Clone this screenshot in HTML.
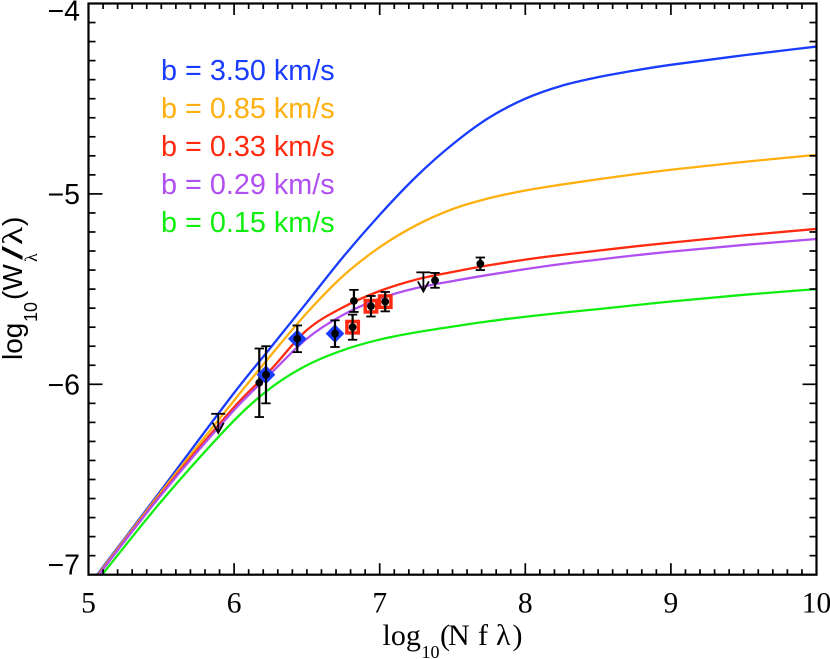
<!DOCTYPE html>
<html lang="en">
<head>
<meta charset="utf-8">
<title>Curve of growth</title>
<style>
html,body{margin:0;padding:0;background:#fff;}
svg{display:block;}
.sans{font-family:"Liberation Sans",sans-serif;}
.serif{font-family:"Liberation Serif",serif;}
</style>
</head>
<body>
<svg id="chart" width="830" height="659" viewBox="0 0 830 659" xmlns="http://www.w3.org/2000/svg">
  <defs><clipPath id="plot-clip"><rect x="88.5" y="3.5" width="728" height="571.2"/></clipPath></defs>
  <g id="curves" clip-path="url(#plot-clip)"></g>
  <g id="observations"></g>
  <g id="axes"></g>
  <g id="legend" class="sans" font-size="28.8"></g>
  <g class="serif" fill="#000" font-size="30">
    <text x="382.5" y="645">log</text>
    <text x="421.5" y="658" font-size="18">10</text>
    <text x="440" y="645">(</text>
    <text x="448" y="645">N</text>
    <text x="478" y="645">f</text>
    <text x="496" y="645">λ</text>
    <text x="512.5" y="645">)</text>
  </g>
  <g class="sans" fill="#000">
    <text transform="translate(22,360) rotate(-90)" font-size="28">log</text>
    <text transform="translate(37,322) rotate(-90)" font-size="18">10</text>
    <text transform="translate(22,300) rotate(-90)" font-size="28">(W</text>
    <text transform="translate(37,262) rotate(-90)" font-size="18" class="serif">λ</text>
    <text transform="translate(22,260) rotate(-90) scale(1.8,1)" font-size="28">/</text>
    <text transform="translate(22,245) rotate(-90) scale(1.35,1)" font-size="28" class="serif">λ</text>
    <text transform="translate(22,226) rotate(-90)" font-size="28">)</text>
  </g>
</svg>
<script>
// Axis ranges and tick labels
const xDomain = [5, 10];
const yDomain = [-7, -4];
const xTickLabels = [5, 6, 7, 8, 9, 10];
const yTickLabels = [-7, -6, -5, -4];

// Curve series: shared log10(N f lambda) samples and log10(W/lambda) values
const logNfl = [5, 5.5, 6, 6.25, 6.5, 6.75, 7, 7.25, 7.5, 7.75, 8, 8.25, 8.5, 8.75, 9, 9.5, 10];
const blueY = [-7.06, -6.555, -6.045, -5.808, -5.57, -5.33, -5.11, -4.91, -4.74, -4.60, -4.50, -4.432, -4.387, -4.352, -4.322, -4.272, -4.226];
const orangeY = [-7.065, -6.565, -6.085, -5.85, -5.625, -5.43, -5.28, -5.165, -5.08, -5.023, -4.982, -4.951, -4.923, -4.897, -4.873, -4.832, -4.795];
const redY = [-7.07, -6.575, -6.12, -5.925, -5.715, -5.595, -5.51, -5.45, -5.41, -5.375, -5.345, -5.32, -5.298, -5.276, -5.256, -5.218, -5.184];
const purpleY = [-7.07, -6.58, -6.135, -5.945, -5.76, -5.635, -5.55, -5.495, -5.458, -5.425, -5.395, -5.368, -5.345, -5.323, -5.303, -5.268, -5.237];
const greenY = [-7.09, -6.615, -6.19, -6.02, -5.90, -5.82, -5.765, -5.727, -5.697, -5.669, -5.645, -5.624, -5.605, -5.585, -5.565, -5.53, -5.5];

const seriesNames = ['blue', 'orange', 'red', 'purple', 'green'];
const seriesColors = ['#1a3cff', '#ffb010', '#ff2a10', '#b050f0', '#10ee10'];
const seriesB = ['3.50', '0.85', '0.33', '0.29', '0.15'];
const seriesYs = [blueY, orangeY, redY, purpleY, greenY];

// Observations
const obsX = [6.173, 6.219, 6.434, 6.693, 6.823, 6.814, 6.94, 7.038, 7.38, 7.691];
const obsY = [-5.992, -5.95, -5.761, -5.734, -5.562, -5.70, -5.59, -5.566, -5.454, -5.367];
const obsErr = [0.18, 0.15, 0.07, 0.07, 0.058, 0.066, 0.054, 0.051, 0.039, 0.033];
const obsMarker = ['none', 'diamond', 'diamond', 'diamond', 'none', 'square', 'square', 'square', 'none', 'none'];
const limitX = [5.891, 7.30];
const limitY = [-6.155, -5.412];
const limitDrop = [0.1, 0.1];

const NS = 'http://www.w3.org/2000/svg';
const PX0 = 88.5, PX1 = 816.5, PY0 = 574.7, PY1 = 3.5;
function xs(v) { return PX0 + (v - xDomain[0]) / (xDomain[1] - xDomain[0]) * (PX1 - PX0); }
function ys(v) { return PY0 + (v - yDomain[0]) / (yDomain[1] - yDomain[0]) * (PY1 - PY0); }
function mk(tag, parent, attrs) {
  const el = document.createElementNS(NS, tag);
  for (const k in attrs) el.setAttribute(k, attrs[k]);
  parent.appendChild(el);
  return el;
}
function smoothPath(px, py) {
  const n = px.length;
  const m = px.map(function (_, i) {
    const a = Math.max(i - 1, 0), b = Math.min(i + 1, n - 1);
    return (py[b] - py[a]) / (px[b] - px[a]);
  });
  let d = 'M' + px[0].toFixed(2) + ' ' + py[0].toFixed(2);
  for (let i = 0; i < n - 1; i++) {
    const dx = (px[i + 1] - px[i]) / 3;
    d += 'C' + (px[i] + dx).toFixed(2) + ' ' + (py[i] + m[i] * dx).toFixed(2) + ' ' + (px[i + 1] - dx).toFixed(2) + ' ' + (py[i + 1] - m[i + 1] * dx).toFixed(2) + ' ' + px[i + 1].toFixed(2) + ' ' + py[i + 1].toFixed(2);
  }
  return d;
}

// Curves
const curvesG = document.getElementById('curves');
seriesNames.forEach(function (name, i) {
  const p = mk('path', curvesG, { d: smoothPath(logNfl.map(xs), seriesYs[i].map(ys)), fill: 'none', stroke: seriesColors[i], 'stroke-width': 2.3, 'stroke-linejoin': 'round' });
  
  
});

// Legend
const legendG = document.getElementById('legend');
seriesNames.forEach(function (name, i) {
  const t = mk('text', legendG, { x: 161, y: 80 + i * 38, fill: seriesColors[i] });
  t.textContent = 'b = ' + seriesB[i] + ' km/s';
  
  
});

// Observations
const obsG = document.getElementById('observations');
obsX.forEach(function (vx, i) {
  const g = mk('g', obsG, {});
  
  
  const cx = xs(vx), cy = ys(obsY[i]);
  const top = ys(obsY[i] + obsErr[i]), bot = ys(obsY[i] - obsErr[i]);
  if (obsMarker[i] === 'diamond') {
    mk('path', g, { d: 'M' + cx + ' ' + (cy - 6.8) + 'L' + (cx + 6.8) + ' ' + cy + 'L' + cx + ' ' + (cy + 6.8) + 'L' + (cx - 6.8) + ' ' + cy + 'Z', fill: 'none', stroke: '#1a3cff', 'stroke-width': 3.6 });
  } else if (obsMarker[i] === 'square') {
    mk('rect', g, { x: cx - 5.7, y: cy - 5.7, width: 11.4, height: 11.4, fill: 'none', stroke: '#ff2a10', 'stroke-width': 3.5 });
  }
  mk('line', g, { x1: cx, x2: cx, y1: top, y2: bot, stroke: '#000', 'stroke-width': 2.2 });
  mk('line', g, { x1: cx - 4.7, x2: cx + 4.7, y1: top, y2: top, stroke: '#000', 'stroke-width': 1.8 });
  mk('line', g, { x1: cx - 4.7, x2: cx + 4.7, y1: bot, y2: bot, stroke: '#000', 'stroke-width': 1.8 });
  mk('circle', g, { cx: cx, cy: cy, r: 3.9, fill: '#000' });
});
limitX.forEach(function (vx, i) {
  const g = mk('g', obsG, {});
  
  
  const cx = xs(vx), top = ys(limitY[i]), tip = ys(limitY[i] - limitDrop[i]);
  mk('line', g, { x1: cx - 7, x2: cx + 7, y1: top, y2: top, stroke: '#000', 'stroke-width': 1.8 });
  mk('line', g, { x1: cx, x2: cx, y1: top, y2: tip, stroke: '#000', 'stroke-width': 1.8 });
  mk('path', g, { d: 'M' + (cx - 5.5) + ' ' + (tip - 10) + 'L' + cx + ' ' + tip + 'L' + (cx + 5.5) + ' ' + (tip - 10), fill: 'none', stroke: '#000', 'stroke-width': 1.8 });
});

// Axes
const axesG = document.getElementById('axes');
const frame = mk('rect', axesG, { x: PX0, y: PY1, width: PX1 - PX0, height: PY0 - PY1, fill: 'none', stroke: '#000', 'stroke-width': 2.2 });


for (let i = 0; i <= 50; i++) {
  const v = xDomain[0] + i * 0.1, x = xs(v), len = i % 10 === 0 ? 11.5 : 5.5;
  mk('line', axesG, { x1: x, x2: x, y1: PY0, y2: PY0 - len, stroke: '#000', 'stroke-width': 1.7 });
  mk('line', axesG, { x1: x, x2: x, y1: PY1, y2: PY1 + len, stroke: '#000', 'stroke-width': 1.7 });
}
for (let i = 0; i <= 30; i++) {
  const v = yDomain[0] + i * 0.1, y = ys(v), len = i % 10 === 0 ? 14 : 7;
  mk('line', axesG, { x1: PX0, x2: PX0 + len, y1: y, y2: y, stroke: '#000', 'stroke-width': 1.7 });
  mk('line', axesG, { x1: PX1, x2: PX1 - len, y1: y, y2: y, stroke: '#000', 'stroke-width': 1.7 });
}
xTickLabels.forEach(function (v) {
  const t = mk('text', axesG, { x: xs(v), y: 612.5, 'text-anchor': 'middle', 'font-size': 29.5, 'class': 'serif' });
  t.textContent = String(v);
  
  
});
yTickLabels.forEach(function (v) {
  const base = Math.min(Math.max(ys(v) + 10, 20.5), 574.5);
  const t = mk('text', axesG, { x: 80, y: base, 'text-anchor': 'end', 'font-size': 28.5, 'class': 'sans' });
  t.textContent = '\u2212' + Math.abs(v);
  
  
});
</script>
</body>
</html>
